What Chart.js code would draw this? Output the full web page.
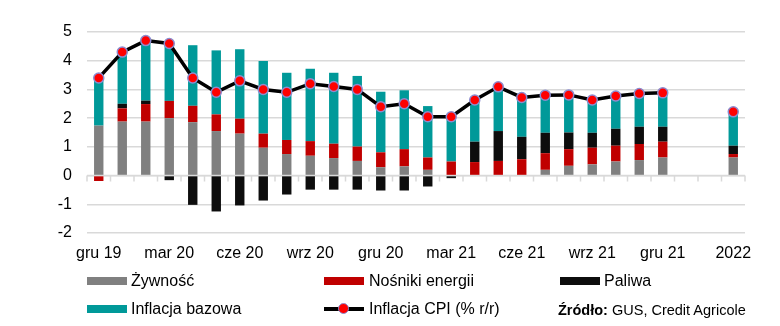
<!DOCTYPE html>
<html lang="pl">
<head>
<meta charset="utf-8">
<script src="https://cdn.jsdelivr.net/npm/chart.js@4/dist/chart.umd.min.js"></script>
<style>
    html, body { margin: 0; padding: 0; background: #fff; }
    #wrap { position: relative; width: 780px; height: 326px; }
    #wykres { position: absolute; left: 0; top: 0; }
    .leg { position: absolute; font: 16px "Liberation Sans", Arial, sans-serif; color: #000; line-height: 18px; white-space: nowrap; }
    .sw { position: absolute; width: 40px; height: 8px; }
    .zrodlo { font-size: 14.5px; }
</style>
</head>
<body>
<div id="wrap">
    <canvas id="wykres" width="780" height="326"></canvas>

    <div class="sw" style="left:87px; top:277px; background:#808080;"></div>
    <div class="leg" style="left:131px; top:272px;">Żywność</div>
    <div class="sw" style="left:324px; top:277px; background:#c00000;"></div>
    <div class="leg" style="left:369px; top:272px;">Nośniki energii</div>
    <div class="sw" style="left:560px; top:277px; background:#0d0d0d;"></div>
    <div class="leg" style="left:604px; top:272px;">Paliwa</div>

    <div class="sw" style="left:87px; top:305px; background:#009999;"></div>
    <div class="leg" style="left:131px; top:300px;">Inflacja bazowa</div>
    <div style="position:absolute; left:324px; top:307px; width:40px; height:4px; background:#000;"></div>
    <div style="position:absolute; left:338px; top:303px; width:9px; height:9px; border-radius:50%; background:#ff0000; border:1.5px solid #8c8cd0;"></div>
    <div class="leg" style="left:369px; top:300px;">Inflacja CPI (% r/r)</div>
    <div class="leg zrodlo" style="left:558px; top:301px;"><b>Źródło:</b> GUS, Credit Agricole</div>
</div>

<script>
const miesiace = [
    "gru 19", "sty 20", "lut 20", "mar 20", "kwi 20", "maj 20", "cze 20", "lip 20", "sie 20",
    "wrz 20", "paź 20", "lis 20", "gru 20", "sty 21", "lut 21", "mar 21", "kwi 21", "maj 21",
    "cze 21", "lip 21", "sie 21", "wrz 21", "paź 21", "lis 21", "gru 21", "", "", "2022"
];

// wkłady do inflacji CPI, pkt proc.
const zywnosc = [1.74, 1.88, 1.88, 2.0, 1.86, 1.55, 1.46, 0.97, 0.75, 0.69, 0.61, 0.51, 0.29, 0.32,
    0.2, 0, 0, 0, 0, 0.2, 0.34, 0.39, 0.49, 0.54, 0.63, null, null, 0.63];
const nosnikiEnergii = [-0.19, 0.46, 0.61, 0.6, 0.57, 0.58, 0.52, 0.49, 0.49, 0.51, 0.5, 0.5, 0.52, 0.6,
    0.43, 0.49, 0.47, 0.51, 0.57, 0.58, 0.58, 0.58, 0.55, 0.56, 0.55, null, null, 0.12];
const paliwa = [0, 0.16, 0.12, -0.16, -1.02, -1.25, -1.04, -0.87, -0.66, -0.49, -0.49, -0.49, -0.52, -0.52,
    -0.38, -0.09, 0.71, 1.04, 0.78, 0.71, 0.58, 0.52, 0.59, 0.6, 0.52, null, null, 0.29];
const inflacjaBazowa = [1.62, 1.8, 2.1, 2.0, 2.11, 2.23, 2.42, 2.53, 2.34, 2.52, 2.47, 2.46, 2.11, 2.05,
    1.79, 1.5, 1.45, 1.54, 1.36, 1.29, 1.31, 1.13, 1.11, 1.15, 1.16, null, null, 1.16];
const inflacjaCPI = [3.4, 4.3, 4.7, 4.6, 3.4, 2.9, 3.3, 3.0, 2.9, 3.2, 3.1, 3.0, 2.4, 2.5,
    2.05, 2.05, 2.63, 3.09, 2.72, 2.8, 2.81, 2.63, 2.77, 2.86, 2.88, null, null, 2.22];

const osY = [-2, -1, 0, 1, 2, 3, 4, 5];

// linia zera z kreskami między miesiącami
const liniaZera = {
    id: "liniaZera",
    beforeDatasetsDraw(chart) {
        const x = chart.scales.x;
        const y = chart.scales.y;
        const ctx = chart.ctx;
        const y0 = y.getPixelForValue(0);
        const szer = x.getPixelForValue(1) - x.getPixelForValue(0);
        ctx.save();
        ctx.strokeStyle = "#d9d9d9";
        ctx.lineWidth = 1.5;
        ctx.beginPath();
        ctx.moveTo(chart.chartArea.left, y0);
        ctx.lineTo(chart.chartArea.right, y0);
        for (let i = 0; i <= miesiace.length; i++) {
            const px = x.getPixelForValue(i) - szer / 2;
            ctx.moveTo(px, y0);
            ctx.lineTo(px, y0 + 6);
        }
        ctx.stroke();
        ctx.restore();
    }
};

function slupek(label, dane, kolor) {
    return {
        type: "bar",
        label: label,
        data: dane,
        backgroundColor: kolor,
        borderWidth: 0,
        barPercentage: 0.4,
        categoryPercentage: 1,
        order: 1
    };
}

new Chart(document.getElementById("wykres"), {
    data: {
        labels: miesiace,
        datasets: [
            {
                type: "line",
                label: "Inflacja CPI (% r/r)",
                data: inflacjaCPI,
                borderColor: "#000",
                borderWidth: 3.5,
                pointRadius: 5,
                pointBackgroundColor: "#ff0000",
                pointBorderColor: "#8c8cd0",
                pointBorderWidth: 1.5,
                spanGaps: false,
                stack: "cpi",
                order: 0
            },
            slupek("Żywność", zywnosc, "#808080"),
            slupek("Nośniki energii", nosnikiEnergii, "#c00000"),
            slupek("Paliwa", paliwa, "#0d0d0d"),
            slupek("Inflacja bazowa", inflacjaBazowa, "#009999")
        ]
    },
    options: {
        responsive: false,
        animation: false,
        layout: { padding: { left: 0, right: 35, top: 32, bottom: 58 } },
        plugins: {
            legend: { display: false },
            tooltip: { enabled: false }
        },
        scales: {
            x: {
                stacked: true,
                grid: { display: false, drawTicks: false },
                border: { display: false },
                ticks: {
                    color: "#000",
                    font: { family: "'Liberation Sans', Arial, sans-serif", size: 16 },
                    autoSkip: false,
                    maxRotation: 0,
                    padding: 11,
                    callback: function (v, i) {
                        return i % 3 === 0 ? miesiace[i] : "";
                    }
                },
                afterFit: s => { s.height = 35; }
            },
            y: {
                stacked: true,
                min: osY[0],
                max: osY[osY.length - 1],
                afterBuildTicks: s => { s.ticks = osY.map(v => ({ value: v })); },
                grid: { color: "#d9d9d9", lineWidth: 1.5, drawTicks: false },
                border: { display: false },
                ticks: {
                    color: "#000",
                    font: { family: "'Liberation Sans', Arial, sans-serif", size: 16 },
                    padding: 15
                },
                afterFit: s => { s.width = 87; }
            }
        }
    },
    plugins: [liniaZera]
});
</script>
</body>
</html>
